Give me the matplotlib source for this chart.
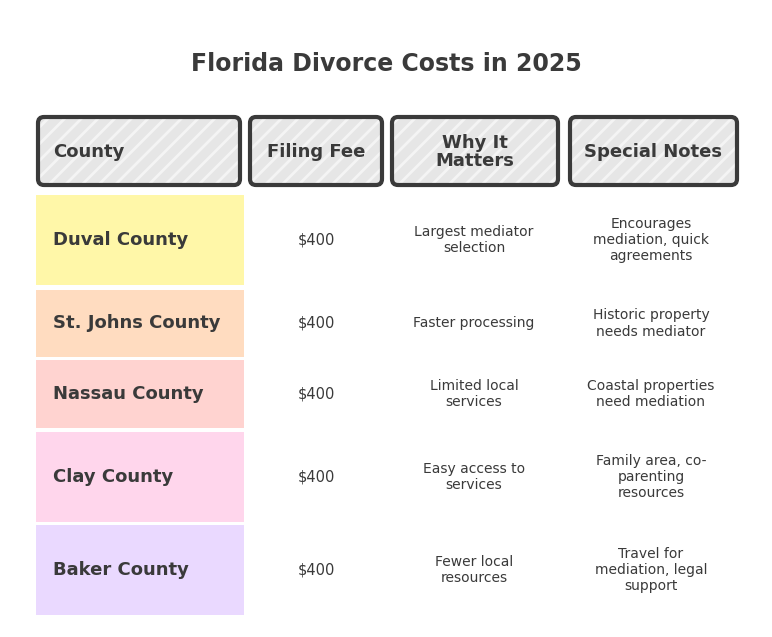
import matplotlib
matplotlib.use("Agg")
import matplotlib.pyplot as plt
from matplotlib.patches import FancyBboxPatch, Rectangle

title = "Florida Divorce Costs in 2025"
headers = ["County", "Filing Fee", "Why It\nMatters", "Special Notes"]
counties = ["Duval County", "St. Johns County", "Nassau County", "Clay County", "Baker County"]
fees = ["$400", "$400", "$400", "$400", "$400"]
why = ["Largest mediator\nselection", "Faster processing", "Limited local\nservices",
       "Easy access to\nservices", "Fewer local\nresources"]
notes = ["Encourages\nmediation, quick\nagreements", "Historic property\nneeds mediator",
         "Coastal properties\nneed mediation", "Family area, co-\nparenting\nresources",
         "Travel for\nmediation, legal\nsupport"]
row_colors = ["#fff7a8", "#ffdcc0", "#ffd3d0", "#ffd6ec", "#ead9ff"]

# layout (pixel space)
col_x = [(38, 240), (250, 382), (392, 558), (570, 737)]
row_y = [(195, 285), (290, 357), (360, 428), (432, 522), (525, 615)]

fig = plt.figure(figsize=(7.72, 6.37), dpi=100)
ax = fig.add_axes([0, 0, 1, 1])
ax.set_xlim(0, 772)
ax.set_ylim(637, 0)
ax.axis("off")

ax.text(386, 64, title, ha="center", va="center", fontsize=17, fontweight="bold", color="#3a3a3a")

plt.rcParams["hatch.linewidth"] = 2
for (x0, x1), h in zip(col_x, headers):
    fill = FancyBboxPatch((x0, 117), x1 - x0, 68, boxstyle="round,pad=0,rounding_size=6",
                          facecolor="#e6e6e6", edgecolor="#f4f4f4", linewidth=0, hatch="//")
    ax.add_patch(fill)
    border = FancyBboxPatch((x0, 117), x1 - x0, 68, boxstyle="round,pad=0,rounding_size=6",
                            facecolor="none", edgecolor="#3a3a3a", linewidth=3)
    ax.add_patch(border)
    tx = x0 + 15 if h == "County" else (x0 + x1) / 2
    ax.text(tx, 152, h, ha="left" if h == "County" else "center", va="center",
            fontsize=13, fontweight="bold", color="#3a3a3a", linespacing=1.0)

for i, (y0, y1) in enumerate(row_y):
    ax.add_patch(Rectangle((36, y0), 208, y1 - y0, facecolor=row_colors[i], edgecolor="none"))
    yc = (y0 + y1) / 2
    ax.text(53, yc, counties[i], ha="left", va="center", fontsize=13, fontweight="bold", color="#3a3a3a")
    ax.text(316, yc, fees[i], ha="center", va="center", fontsize=10.5, color="#3a3a3a")
    ax.text(474, yc, why[i], ha="center", va="center", fontsize=10, color="#3a3a3a")
    ax.text(651, yc, notes[i], ha="center", va="center", fontsize=10, color="#3a3a3a")

fig.savefig("out.png", dpi=100)
